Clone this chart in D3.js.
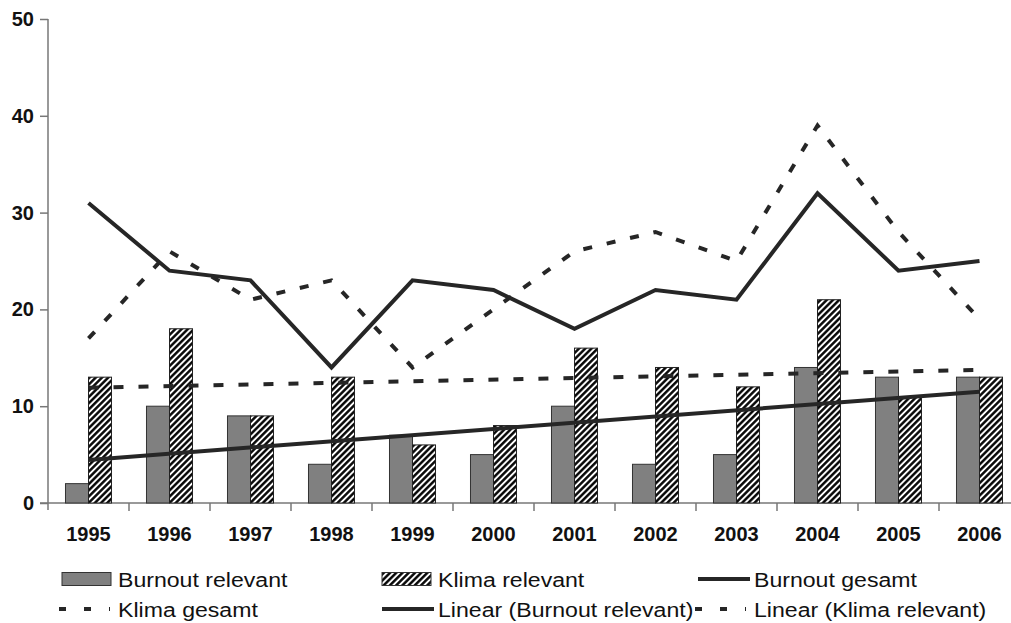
<!DOCTYPE html>
<html>
<head>
<meta charset="utf-8">
<script src="https://cdn.jsdelivr.net/npm/d3@7"></script>
<style>
  body { margin: 0; background: #fff; }
  text { font-family: "Liberation Sans", Arial, sans-serif; }
</style>
</head>
<body>
<div id="wrapper"></div>
<script>
// data
const years = ['1995', '1996', '1997', '1998', '1999', '2000', '2001', '2002', '2003', '2004', '2005', '2006']
const burnoutRelevant = [2, 10, 9, 4, 7, 5, 10, 4, 5, 14, 13, 13]
const klimaRelevant = [13, 18, 9, 13, 6, 8, 16, 14, 12, 21, 11, 13]
const burnoutGesamt = [31, 24, 23, 14, 23, 22, 18, 22, 21, 32, 24, 25]
const klimaGesamt = [17, 26, 21, 23, 14, 20, 26, 28, 25, 39, 28, 19]
// trend line end points (first and last year)
const trendBurnout = [4.45, 11.5]
const trendKlima = [11.9, 13.75]
const yTicks = [0, 10, 20, 30, 40, 50]

const dimensions = {
    width: 1011,
    height: 623,
    margin: { top: 19, left: 48, right: -9, bottom: 120 },
}
dimensions.boundedWidth = dimensions.width - dimensions.margin.left - dimensions.margin.right
dimensions.boundedHeight = dimensions.height - dimensions.margin.top - dimensions.margin.bottom

const lineColor = '#262626'
const axisColor = '#777'

const svg = d3.select('#wrapper')
    .append('svg')
    .attr('width', dimensions.width)
    .attr('height', dimensions.height)

// hatch pattern for "Klima relevant"
const defs = svg.append('defs')
defs.append('pattern')
    .attr('id', 'hatch')
    .attr('patternUnits', 'userSpaceOnUse')
    .attr('width', 4.4)
    .attr('height', 4.4)
    .attr('patternTransform', 'rotate(45)')
    .call(p => p.append('rect').attr('width', 4.4).attr('height', 4.4).attr('fill', '#fff'))
    .append('line')
    .attr('x1', 1.3).attr('y1', 0).attr('x2', 1.3).attr('y2', 4.4)
    .attr('stroke', '#000')
    .attr('stroke-width', 2.4)

const bounds = svg.append('g')
    .attr('transform', `translate(${dimensions.margin.left},${dimensions.margin.top})`)

// scales
const xScale = d3.scaleBand()
    .domain(years)
    .range([0, dimensions.boundedWidth])

const subScale = d3.scaleBand()
    .domain(['burnout', 'klima'])
    .range([0, xScale.bandwidth()])
    .paddingOuter(0.76)

const yScale = d3.scaleLinear()
    .domain([0, 50])
    .range([dimensions.boundedHeight, 0])

const xCenter = (d, i) => xScale(years[i]) + xScale.bandwidth() / 2

// axes
const yAxis = bounds.append('g')
    .call(d3.axisLeft(yScale).tickValues(yTicks).tickSize(8).tickPadding(6))
yAxis.select('.domain').attr('stroke', axisColor).attr('stroke-width', 1.5)
    .attr('d', `M0,0V${dimensions.boundedHeight + 7}`)
yAxis.selectAll('.tick line').attr('stroke', axisColor).attr('stroke-width', 1.5)
yAxis.selectAll('.tick text')
    .attr('font-family', '"Liberation Sans", Arial, sans-serif')
    .attr('font-size', 20)
    .attr('font-weight', 'bold')
    .attr('fill', '#111')

const xAxis = bounds.append('g')
    .attr('transform', `translate(0,${dimensions.boundedHeight})`)
xAxis.append('line')
    .attr('x1', -8)
    .attr('x2', dimensions.boundedWidth)
    .attr('stroke', axisColor)
    .attr('stroke-width', 1.5)
xAxis.selectAll('.sep')
    .data(years.slice(1))
    .join('line')
    .attr('class', 'sep')
    .attr('x1', d => xScale(d))
    .attr('x2', d => xScale(d))
    .attr('y1', 0)
    .attr('y2', 8)
    .attr('stroke', axisColor)
    .attr('stroke-width', 1.5)
xAxis.selectAll('.year')
    .data(years)
    .join('text')
    .attr('class', 'year')
    .attr('x', d => xScale(d) + xScale.bandwidth() / 2)
    .attr('y', 38)
    .attr('text-anchor', 'middle')
    .attr('font-size', 20)
    .attr('font-weight', 'bold')
    .attr('fill', '#111')
    .text(d => d)

// bars
bounds.append('g')
    .selectAll('rect')
    .data(burnoutRelevant)
    .join('rect')
    .attr('x', (d, i) => xScale(years[i]) + subScale('burnout'))
    .attr('y', d => yScale(d))
    .attr('width', subScale.bandwidth())
    .attr('height', d => yScale(0) - yScale(d))
    .attr('fill', '#808080')
    .attr('stroke', '#333')
    .attr('stroke-width', 1)

bounds.append('g')
    .selectAll('rect')
    .data(klimaRelevant)
    .join('rect')
    .attr('x', (d, i) => xScale(years[i]) + subScale('klima'))
    .attr('y', d => yScale(d))
    .attr('width', subScale.bandwidth())
    .attr('height', d => yScale(0) - yScale(d))
    .attr('fill', 'url(#hatch)')
    .attr('stroke', '#222')
    .attr('stroke-width', 1)

// lines
const lineGen = d3.line().x(xCenter).y(d => yScale(d))

bounds.append('path')
    .datum(klimaGesamt)
    .attr('d', lineGen)
    .attr('fill', 'none')
    .attr('stroke', lineColor)
    .attr('stroke-width', 4)
    .attr('stroke-dasharray', '9,15')

bounds.append('path')
    .datum(burnoutGesamt)
    .attr('d', lineGen)
    .attr('fill', 'none')
    .attr('stroke', lineColor)
    .attr('stroke-width', 4)
    .attr('stroke-linejoin', 'miter')

const trendLine = d3.line()
    .x((d, i) => i === 0
        ? xScale(years[0]) + xScale.bandwidth() / 2
        : xScale(years[years.length - 1]) + xScale.bandwidth() / 2)
    .y(d => yScale(d))

bounds.append('path')
    .datum(trendKlima)
    .attr('d', trendLine)
    .attr('fill', 'none')
    .attr('stroke', lineColor)
    .attr('stroke-width', 4)
    .attr('stroke-dasharray', '10,15')

bounds.append('path')
    .datum(trendBurnout)
    .attr('d', trendLine)
    .attr('fill', 'none')
    .attr('stroke', lineColor)
    .attr('stroke-width', 4)

// legend
const legendItems = [
    { label: 'Burnout relevant', type: 'bar', x: 62, y: 579 },
    { label: 'Klima relevant', type: 'hatch', x: 382, y: 579 },
    { label: 'Burnout gesamt', type: 'line', x: 698, y: 579 },
    { label: 'Klima gesamt', type: 'dash', x: 62, y: 609 },
    { label: 'Linear (Burnout relevant)', type: 'line', x: 382, y: 609 },
    { label: 'Linear (Klima relevant)', type: 'dash', x: 698, y: 609 },
]

const legend = svg.append('g')
const items = legend.selectAll('g')
    .data(legendItems)
    .join('g')
    .attr('transform', d => `translate(${d.x},${d.y})`)

items.filter(d => d.type === 'bar' || d.type === 'hatch')
    .append('rect')
    .attr('x', 0)
    .attr('y', -6.5)
    .attr('width', 49)
    .attr('height', 13)
    .attr('fill', d => d.type === 'bar' ? '#808080' : 'url(#hatch)')
    .attr('stroke', '#333')
    .attr('stroke-width', 1)

items.filter(d => d.type === 'line' || d.type === 'dash')
    .append('line')
    .attr('x1', 0)
    .attr('x2', d => d.type === 'dash' ? 51 : 52)
    .attr('stroke', lineColor)
    .attr('stroke-width', 4)
    .attr('stroke-dasharray', d => d.type === 'dash' ? '7,18' : null)
    .attr('transform', d => d.type === 'dash' ? 'translate(-3,0)' : null)

items.append('text')
    .attr('transform', 'translate(56,7.5) scale(1.1,1)')
    .attr('font-size', 21)
    .attr('fill', '#111')
    .text(d => d.label)
</script>
</body>
</html>
